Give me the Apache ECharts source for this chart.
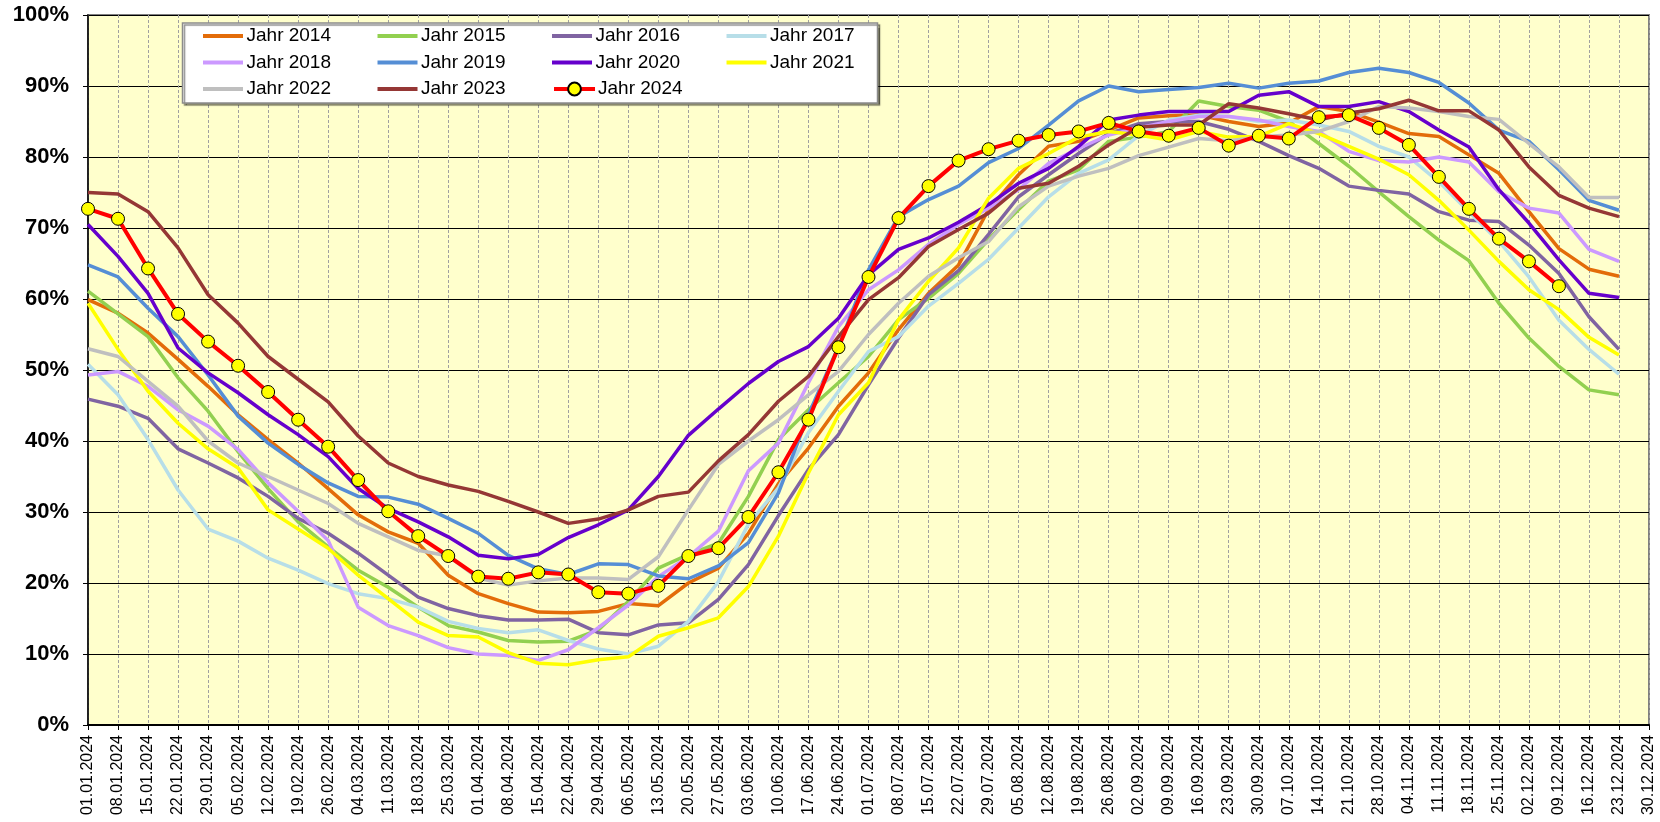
<!DOCTYPE html>
<html>
<head>
<meta charset="utf-8">
<script src="https://cdn.jsdelivr.net/npm/echarts@6/dist/echarts.min.js"></script>
<style>
html,body{margin:0;padding:0;background:#fff;}
#c{width:1660px;height:822px;}
</style>
</head>
<body>
<div id="c"></div>
<script>
const categories = ['01.01.2024','08.01.2024','15.01.2024','22.01.2024','29.01.2024','05.02.2024','12.02.2024','19.02.2024','26.02.2024','04.03.2024','11.03.2024','18.03.2024','25.03.2024','01.04.2024','08.04.2024','15.04.2024','22.04.2024','29.04.2024','06.05.2024','13.05.2024','20.05.2024','27.05.2024','03.06.2024','10.06.2024','17.06.2024','24.06.2024','01.07.2024','08.07.2024','15.07.2024','22.07.2024','29.07.2024','05.08.2024','12.08.2024','19.08.2024','26.08.2024','02.09.2024','09.09.2024','16.09.2024','23.09.2024','30.09.2024','07.10.2024','14.10.2024','21.10.2024','28.10.2024','04.11.2024','11.11.2024','18.11.2024','25.11.2024','02.12.2024','09.12.2024','16.12.2024','23.12.2024','30.12.2024'];

const yTicks = [0,10,20,30,40,50,60,70,80,90,100];

const y2014 = [59.9,58.0,55.2,51.5,47.7,43.7,40.2,36.9,33.3,29.6,27.2,25.6,21.1,18.5,17.1,15.9,15.8,16.0,17.1,16.8,20.0,22.1,27.0,34.0,39.0,44.9,49.6,55.7,60.8,64.8,72.6,77.5,81.5,82.2,83.8,85.5,85.8,85.9,85.0,84.3,84.8,87.1,86.4,84.9,83.3,82.9,80.3,77.7,72.3,67.1,64.2,63.2];
const y2015 = [61.1,57.9,54.7,48.9,44.2,38.5,33.3,28.6,25.1,21.8,19.4,16.6,14.0,13.1,11.9,11.7,11.8,13.4,17.4,22.1,24.0,25.6,32.2,40.2,44.4,48.2,51.9,57.1,60.1,63.6,68.4,72.6,76.6,78.2,82.2,82.8,83.6,87.9,87.1,86.6,85.0,81.9,78.7,75.1,71.6,68.3,65.4,59.4,54.5,50.5,47.2,46.5];
const y2016 = [45.9,44.9,43.2,38.9,36.9,34.8,32.2,29.1,27.0,24.2,21.1,18.0,16.4,15.4,14.8,14.8,14.9,13.0,12.7,14.1,14.4,17.7,22.6,29.5,36.0,40.9,47.9,54.5,60.6,64.0,69.1,74.4,77.5,80.5,83.3,84.7,85.0,85.0,83.9,82.2,80.2,78.4,75.9,75.3,74.8,72.3,71.1,70.9,67.6,63.6,57.5,52.9];
const y2017 = [50.8,46.5,40.2,33.1,27.6,25.9,23.5,21.8,19.9,18.5,17.8,16.6,14.6,13.6,13.0,13.4,11.9,10.7,10.0,11.1,14.6,20.2,28.3,33.4,41.2,47.0,52.6,54.7,59.0,62.2,65.6,70.0,74.4,77.7,79.6,83.0,85.2,85.9,85.7,85.0,85.2,84.5,83.6,81.5,80.0,76.5,72.3,68.1,63.1,57.0,52.9,49.4];
const y2018 = [49.3,49.8,47.7,44.4,42.1,38.8,34.1,30.1,26.0,16.6,14.0,12.6,10.9,10.0,9.8,9.1,10.6,13.7,16.9,20.9,23.7,27.3,35.8,39.7,48.2,56.1,61.3,64.1,67.7,70.5,72.8,75.4,79.1,81.2,83.1,84.1,85.0,85.7,85.7,85.2,84.3,83.6,80.8,79.5,79.3,80.0,79.3,75.1,72.8,72.1,67.0,65.3];
const y2019 = [64.8,63.1,58.7,54.7,49.3,43.5,39.7,36.7,34.1,32.2,32.1,31.1,29.1,27.0,23.9,22.0,21.2,22.7,22.6,21.0,20.6,22.4,25.7,32.7,43.7,53.3,64.1,71.6,74.0,75.9,79.2,81.2,84.5,87.9,90.0,89.2,89.5,89.8,90.4,89.7,90.4,90.7,91.9,92.5,91.9,90.5,87.6,83.8,82.2,78.2,73.9,72.5];
const y2020 = [70.5,66.0,60.8,53.1,49.6,46.8,43.7,40.9,37.8,33.3,30.5,28.6,26.5,23.9,23.4,24.0,26.4,28.2,30.3,35.0,40.8,44.5,48.1,51.2,53.3,57.3,63.4,67.0,68.6,70.8,73.3,76.3,78.4,81.5,85.2,85.9,86.4,86.4,86.4,88.7,89.2,87.1,87.1,87.8,86.4,83.8,81.4,75.4,70.7,65.5,60.8,60.2];
const y2021 = [59.4,52.9,47.0,42.5,38.9,36.2,30.3,27.6,24.9,21.1,17.8,14.5,12.6,12.4,10.2,8.7,8.5,9.2,9.6,12.5,13.7,15.1,19.5,26.6,35.5,43.7,48.2,57.1,62.5,67.2,74.2,78.4,80.5,82.8,83.6,83.1,82.4,83.6,82.8,82.9,84.7,83.3,81.5,79.7,77.5,73.9,69.7,65.3,61.3,58.5,54.6,52.1];
const y2022 = [53.0,51.9,48.4,44.9,40.0,36.9,35.0,33.1,31.2,28.4,26.5,24.6,23.8,20.7,19.7,20.3,20.7,20.7,20.5,23.7,30.3,36.7,40.0,43.0,46.5,49.8,55.0,59.4,63.2,65.8,68.1,73.0,75.9,77.3,78.4,80.2,81.4,82.6,82.3,82.8,83.1,83.6,85.0,87.1,86.9,86.4,85.7,85.3,81.9,78.6,74.3,74.3];
const y2023 = [75.0,74.8,72.3,67.2,60.6,56.6,51.9,48.7,45.5,40.7,36.9,35.0,33.8,32.9,31.5,30.0,28.4,29.0,30.3,32.2,32.8,37.2,40.9,45.6,49.1,54.7,59.9,63.0,67.4,69.8,72.1,75.6,76.3,78.7,81.7,84.2,84.5,84.5,87.5,86.9,86.1,85.2,86.2,86.8,88.0,86.5,86.5,83.8,78.6,74.6,72.8,71.6];
const y2024 = [72.7,71.3,64.3,57.9,54.0,50.6,46.9,43.0,39.2,34.5,30.1,26.6,23.8,20.9,20.6,21.5,21.2,18.7,18.5,19.6,23.8,24.9,29.3,35.6,43.0,53.2,63.1,71.4,75.9,79.5,81.1,82.3,83.1,83.6,84.8,83.6,83.0,84.1,81.6,83.0,82.6,85.6,85.9,84.1,81.7,77.2,72.7,68.5,65.3,61.8];

const seriesNames = ['Jahr 2014','Jahr 2015','Jahr 2016','Jahr 2017','Jahr 2018','Jahr 2019','Jahr 2020','Jahr 2021','Jahr 2022','Jahr 2023','Jahr 2024'];
const seriesData = [y2014,y2015,y2016,y2017,y2018,y2019,y2020,y2021,y2022,y2023,y2024];
const seriesColors = ['#E36C09','#92D050','#8064A2','#B7DEE8','#CC99FF','#558ED5','#6600CC','#FFFF00','#BFBFBF','#953735','#FF0000'];

const FONT = '"Liberation Sans", Arial, sans-serif';
// plain line legend icon: a 4px bar centred in a 40x16 box (corner points only set the box)
const LINE_ICON = 'path://M0,0L0,0L0,0Z M0,6L40,6L40,10L0,10Z M40,16L40,16L40,16Z';

const series = seriesNames.map((name, i) => {
  const is2024 = name === 'Jahr 2024';
  return {
    name: name,
    type: 'line',
    data: seriesData[i],
    smooth: false,
    symbol: is2024 ? 'circle' : 'none',
    symbolSize: 13,
    showSymbol: is2024,
    z: 2 + i * 0.01,
    lineStyle: { color: seriesColors[i], width: is2024 ? 4 : 3.5 },
    itemStyle: is2024 ? { color: '#FFFF00', borderColor: '#000', borderWidth: 1 } : { color: seriesColors[i] },
    emphasis: { disabled: true },
    animation: false
  };
});

const legendRow = (names, top) => ({
  data: names.map(n => n === 'Jahr 2024'
    ? { name: n, lineStyle: { width: 4, color: '#FF0000' } }
    : { name: n, icon: LINE_ICON }),
  left: 203,
  top: top,
  orient: 'horizontal',
  itemGap: 46.5,
  itemWidth: 41,
  itemHeight: 16,
  padding: 0,
  z: 10,
  selectedMode: false,
  textStyle: { fontSize: 19, fontFamily: FONT, color: '#000', padding: [0,0,0,-2] }
});

const chart = echarts.init(document.getElementById('c'), null, { renderer: 'canvas' });
chart.setOption({
  animation: false,
  backgroundColor: '#ffffff',
  grid: {
    left: 88, right: 11, top: 15, bottom: 97,
    show: true,
    backgroundColor: '#FFFFCC',
    borderColor: '#808080',
    borderWidth: 2
  },
  graphic: [{
    type: 'rect',
    z: 5,
    shape: { x: 182.5, y: 23, width: 695, height: 80 },
    style: { fill: '#ffffff', stroke: '#8c8c8c', lineWidth: 1.5, shadowColor: 'rgba(0,0,0,0.45)', shadowOffsetX: 2, shadowOffsetY: 2, shadowBlur: 1 }
  }],
  legend: [
    legendRow(seriesNames.slice(0,4), 26.5),
    legendRow(seriesNames.slice(4,8), 53),
    legendRow(seriesNames.slice(8,11), 79.5)
  ],
  xAxis: {
    type: 'category',
    data: categories,
    boundaryGap: false,
    axisLine: { show: true, onZero: false, lineStyle: { color: '#000', width: 2 } },
    axisTick: { show: true, length: 5, interval: 0, lineStyle: { color: '#000', width: 1 } },
    axisLabel: { interval: 0, rotate: 90, margin: 10, fontSize: 16, fontFamily: FONT, color: '#000' },
    splitLine: { show: true, interval: 0, lineStyle: { color: '#a0a0a0', width: 1, type: [3, 2] } }
  },
  yAxis: {
    type: 'value',
    min: yTicks[0],
    max: yTicks[yTicks.length - 1],
    interval: 10,
    axisLine: { show: true, lineStyle: { color: '#000', width: 1.5 } },
    axisTick: { show: true, length: 5, lineStyle: { color: '#000' } },
    axisLabel: { formatter: '{value}%', margin: 19, fontSize: 22, fontWeight: 'bold', fontFamily: FONT, color: '#000' },
    splitLine: { show: true, lineStyle: { color: '#000', width: 1.2 } }
  },
  series: series
});
</script>
</body>
</html>
